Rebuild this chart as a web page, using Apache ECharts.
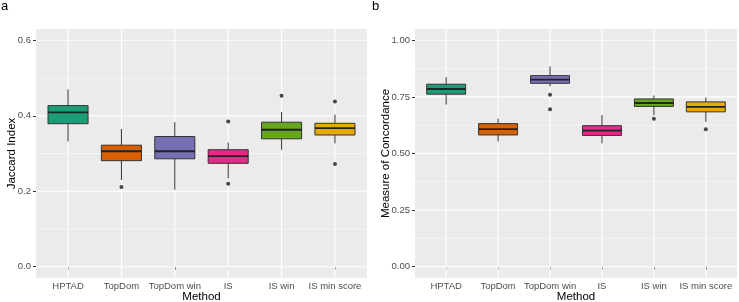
<!DOCTYPE html>
<html>
<head>
<meta charset="utf-8">
<script src="https://cdn.jsdelivr.net/npm/echarts@6/dist/echarts.min.js"></script>
<style>html,body{margin:0;padding:0;background:#fff}#c{width:739px;height:302px}</style>
</head>
<body>
<div id="c"></div>
<script>
// ---- data ----
const categories = ['HPTAD', 'TopDom', 'TopDom win', 'IS', 'IS win', 'IS min score'];
const palette = ['#1B9E77', '#D95F02', '#7570B3', '#E7298A', '#66A61E', '#E6AB02'];
// [min, Q1, median, Q3, max]
const jaccardBoxes = [
  [0.332, 0.379, 0.409, 0.427, 0.470],
  [0.230, 0.281, 0.306, 0.322, 0.365],
  [0.204, 0.286, 0.306, 0.345, 0.383],
  [0.234, 0.274, 0.293, 0.310, 0.329],
  [0.310, 0.339, 0.363, 0.383, 0.410],
  [0.327, 0.349, 0.367, 0.380, 0.403]
];
// [category index, value]
const jaccardOutliers = [[1, 0.211], [3, 0.385], [3, 0.220], [4, 0.453], [5, 0.438], [5, 0.272]];
const concordBoxes = [
  [0.716, 0.762, 0.785, 0.806, 0.837],
  [0.553, 0.582, 0.608, 0.632, 0.654],
  [0.797, 0.810, 0.826, 0.844, 0.885],
  [0.545, 0.580, 0.601, 0.623, 0.669],
  [0.669, 0.708, 0.723, 0.741, 0.756],
  [0.640, 0.684, 0.706, 0.728, 0.747]
];
const concordOutliers = [[2, 0.760], [2, 0.695], [4, 0.654], [5, 0.607]];
const jaccardTicks = [0, 0.2, 0.4, 0.6];
const jaccardMinor = [0.1, 0.3, 0.5];
const concordTicks = [0, 0.25, 0.5, 0.75, 1.0];
const concordMinor = [0.125, 0.375, 0.625, 0.875];

// ---- build ----
const xPos = categories.map((_, i) => i + 1);
const XMIN = 0.4, XMAX = 6.6;
const FONT = 'Liberation Sans, Arial, sans-serif';
const chart = echarts.init(document.getElementById('c'), null, {renderer: 'canvas'});

function boxData(boxes) { return boxes.map((b, i) => [i + 1].concat(b)); }
function outData(outs) { return outs.map(o => [o[0] + 1, o[1]]); }
function gridData(major, minor) {
  const d = [];
  major.forEach(v => d.push([0, v, 1]));
  minor.forEach(v => d.push([0, v, 0]));
  xPos.forEach(v => d.push([1, v, 1]));
  return d;
}

function renderGrid(yMin, yMax) {
  return function (params, api) {
    const kind = api.value(0), v = api.value(1), major = api.value(2);
    let p1, p2;
    if (kind === 0) { p1 = api.coord([XMIN, v]); p2 = api.coord([XMAX, v]); }
    else { p1 = api.coord([v, yMin]); p2 = api.coord([v, yMax]); }
    return {type: 'line', shape: {x1: p1[0], y1: p1[1], x2: p2[0], y2: p2[1]},
      style: {stroke: '#ffffff', lineWidth: major ? 1.1 : 0.5}};
  };
}

function renderBox(params, api) {
  const x = api.value(0);
  const half = api.size([0.75, 0])[0] / 2;
  const pMin = api.coord([x, api.value(1)]);
  const pQ1 = api.coord([x, api.value(2)]);
  const pMed = api.coord([x, api.value(3)]);
  const pQ3 = api.coord([x, api.value(4)]);
  const pMax = api.coord([x, api.value(5)]);
  const stroke = '#333333';
  return {type: 'group', children: [
    {type: 'line', shape: {x1: pMax[0], y1: pMax[1], x2: pQ3[0], y2: pQ3[1]}, style: {stroke: stroke, lineWidth: 1}},
    {type: 'line', shape: {x1: pQ1[0], y1: pQ1[1], x2: pMin[0], y2: pMin[1]}, style: {stroke: stroke, lineWidth: 1}},
    {type: 'rect', shape: {x: pQ3[0] - half, y: pQ3[1], width: 2 * half, height: pQ1[1] - pQ3[1]},
      style: {fill: palette[params.dataIndex], stroke: stroke, lineWidth: 1}},
    {type: 'line', shape: {x1: pMed[0] - half, y1: pMed[1], x2: pMed[0] + half, y2: pMed[1]},
      style: {stroke: '#222222', lineWidth: 1.8}}
  ]};
}

const tickLabel = {color: '#4d4d4d', fontSize: 9.5, fontFamily: FONT};
const titleFont = {color: '#000', fontSize: 11.5, fontFamily: FONT};

function xAxisDef(gi) {
  return {
    type: 'value', gridIndex: gi, min: XMIN, max: XMAX,
    name: 'Method', nameLocation: 'middle', nameGap: 13, nameMoveOverlap: false,
    nameTextStyle: Object.assign({verticalAlign: 'top'}, titleFont),
    axisLine: {show: false},
    axisTick: {show: true, length: 3, lineStyle: {color: '#333333', width: 1}, customValues: xPos},
    axisLabel: Object.assign({margin: 3, customValues: xPos, formatter: v => categories[Math.round(v) - 1]}, tickLabel),
    splitLine: {show: false}
  };
}
function yAxisDef(gi, min, max, ticks, digits, name, gap) {
  return {
    type: 'value', gridIndex: gi, min: min, max: max,
    name: name, nameLocation: 'middle', nameGap: gap, nameMoveOverlap: false, nameTextStyle: titleFont,
    axisLine: {show: false},
    axisTick: {show: true, length: 3, lineStyle: {color: '#333333', width: 1}, customValues: ticks},
    axisLabel: Object.assign({margin: 5, customValues: ticks, formatter: v => v.toFixed(digits)}, tickLabel),
    splitLine: {show: false}
  };
}

const option = {
  animation: false,
  backgroundColor: '#ffffff',
  title: [
    {text: 'a', left: 1, top: 0, padding: 0, textStyle: {fontSize: 13, fontWeight: 'normal', color: '#000', fontFamily: FONT}},
    {text: 'b', left: 372, top: 0, padding: 0, textStyle: {fontSize: 13, fontWeight: 'normal', color: '#000', fontFamily: FONT}}
  ],
  grid: [
    {left: 36, top: 29, width: 331, height: 249, show: true, backgroundColor: '#ebebeb', borderWidth: 0, outerBoundsMode: 'none', containLabel: false},
    {left: 415, top: 29, width: 322, height: 249, show: true, backgroundColor: '#ebebeb', borderWidth: 0, outerBoundsMode: 'none', containLabel: false}
  ],
  xAxis: [xAxisDef(0), xAxisDef(1)],
  yAxis: [
    yAxisDef(0, -0.03, 0.63, jaccardTicks, 1, 'Jaccard Index', 18),
    yAxisDef(1, -0.05, 1.05, concordTicks, 2, 'Measure of Concordance', 23.5)
  ],
  series: [
    {type: 'custom', xAxisIndex: 0, yAxisIndex: 0, z: 1, silent: true, clip: true,
      renderItem: renderGrid(-0.03, 0.63), data: gridData(jaccardTicks, jaccardMinor), encode: {x: 1, y: 1}},
    {type: 'custom', xAxisIndex: 1, yAxisIndex: 1, z: 1, silent: true, clip: true,
      renderItem: renderGrid(-0.05, 1.05), data: gridData(concordTicks, concordMinor), encode: {x: 1, y: 1}},
    {type: 'custom', xAxisIndex: 0, yAxisIndex: 0, z: 3, renderItem: renderBox,
      data: boxData(jaccardBoxes), encode: {x: 0, y: [1, 2, 3, 4, 5]}},
    {type: 'custom', xAxisIndex: 1, yAxisIndex: 1, z: 3, renderItem: renderBox,
      data: boxData(concordBoxes), encode: {x: 0, y: [1, 2, 3, 4, 5]}},
    {type: 'scatter', xAxisIndex: 0, yAxisIndex: 0, z: 4, symbolSize: 4,
      itemStyle: {color: '#1a1a1a'}, data: outData(jaccardOutliers)},
    {type: 'scatter', xAxisIndex: 1, yAxisIndex: 1, z: 4, symbolSize: 4,
      itemStyle: {color: '#1a1a1a'}, data: outData(concordOutliers)}
  ]
};
chart.setOption(option);
</script>
</body>
</html>
